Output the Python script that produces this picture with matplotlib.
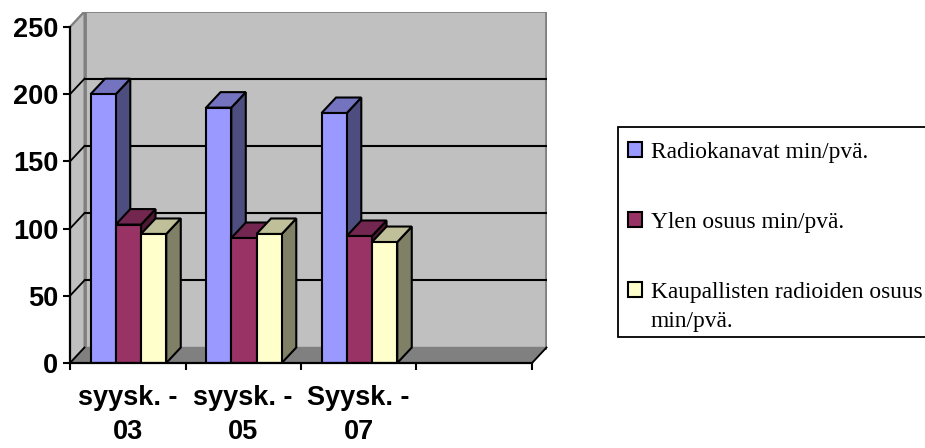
import matplotlib
matplotlib.use("Agg")
import matplotlib.pyplot as plt
from matplotlib.patches import Patch

categories = ["syysk. -\n03", "syysk. -\n05", "Syysk. -\n07"]
radiokanavat = [200, 190, 186]
ylen = [103, 93, 94.5]
kaupalliset = [96, 96, 90]
series_names = ["Radiokanavat min/pvä.", "Ylen osuus min/pvä.",
                "Kaupallisten radioiden osuus\nmin/pvä."]
yticks = [0, 50, 100, 150, 200, 250]
front_colors = ["#9999FF", "#993366", "#FFFFCC"]
top_colors = ["#7373BF", "#732650", "#BFBF99"]
side_colors = ["#4D4D80", "#4D1A33", "#808066"]

W, H = 925, 448
fig = plt.figure(figsize=(W / 100, H / 100), dpi=100, facecolor="white")
L, R, B, T = 70, 547, 363, 12
ax = fig.add_axes([L / W, 1 - B / H, (R - L) / W, (B - T) / H])
ax.set_xlim(0, (R - L) / 115.5)
ax.set_ylim(0, (B - T) / 1.344)
ax.patch.set_visible(False)

dx = 14.5 / 115.5      # depth offset, x units
dy = 15.5 / 1.344      # depth offset, y units
n_slots = 4
ymax = yticks[-1]

# walls and floor
ax.fill([0, dx, dx, 0], [0, dy, ymax + dy, ymax], fc="#C0C0C0", ec="#808080", lw=1.5, zorder=1)
ax.fill([dx, n_slots + dx, n_slots + dx, dx], [dy, dy, ymax + dy, ymax + dy],
        fc="#C0C0C0", ec="#808080", lw=2, zorder=1)
ax.fill([0, n_slots, n_slots + dx, dx], [0, 0, dy, dy], fc="#808080", ec="#808080", lw=1, zorder=2)
ax.plot([n_slots, n_slots + dx], [0, dy], color="black", lw=1.3, zorder=2, clip_on=False)
# gridlines
for v in yticks[:-1]:
    ax.plot([0, dx], [v, v + dy], color="black", lw=1.3, zorder=3, clip_on=False)
    if v > 0:
        ax.plot([dx, n_slots + dx], [v + dy, v + dy], color="black", lw=1.5, zorder=3)
ax.plot([0, dx], [ymax, ymax + dy], color="#808080", lw=1.3, zorder=3)

# bars
values = [radiokanavat, ylen, kaupalliset]
bw = 0.2185
start = 0.178
z = 5
for c in range(len(categories)):
    for s, vals in enumerate(values):
        x0 = c + start + s * bw
        x1 = x0 + bw
        v = vals[c]
        kw = dict(ec="black", lw=1.5, joinstyle="miter")
        ax.fill([x1, x1 + dx, x1 + dx, x1], [0, dy, v + dy, v], fc=side_colors[s], zorder=z, **kw)
        ax.fill([x0, x1, x1 + dx, x0 + dx], [v, v, v + dy, v + dy], fc=top_colors[s], zorder=z, **kw)
        ax.bar(x0, v, width=bw, align="edge", color=front_colors[s], edgecolor="black",
               linewidth=1.5, zorder=z + 1)
        z += 2

# axes
for side in ("top", "right"):
    ax.spines[side].set_visible(False)
ax.spines["left"].set_bounds(0, ymax)
ax.spines["bottom"].set_bounds(0, n_slots)
for side in ("left", "bottom"):
    ax.spines[side].set_linewidth(1.6)
    ax.spines[side].set_zorder(100)
ax.set_yticks(yticks)
ax.set_xticks(range(n_slots + 1), [""] * (n_slots + 1))
ax.set_xticks([i + 0.5 for i in range(len(categories))], categories, minor=True)
ax.tick_params(axis="both", which="major", width=1.5, length=5)
ax.tick_params(axis="x", which="minor", length=0, pad=16)
font = dict(family="Liberation Sans", fontweight="bold", fontsize=19.5)
for t in ax.get_yticklabels():
    t.set(**font)
for t in ax.get_xticklabels(minor=True):
    t.set(linespacing=1.4, **font)

# legend
handles = [Patch(fc=front_colors[i], ec="black", lw=1.5) for i in range(3)]
leg = ax.legend(handles, series_names, loc="upper left",
                bbox_to_anchor=(618 / W, 1 - 127 / H), bbox_transform=fig.transFigure,
                prop=dict(family="Liberation Serif", size=16.8),
                fancybox=False, framealpha=1, edgecolor="black", borderaxespad=0,
                handlelength=0.62, handleheight=0.62, handletextpad=0.36,
                labelspacing=2.1, borderpad=0.42, labelcolor="black")
leg.get_frame().set_linewidth(1.3)
leg.set_zorder(200)
for t in leg.get_texts():
    t.set_linespacing(1.52)
    t.set_y(-5.1)  # points: rows sit lower in the box than the default padding
for i, p in enumerate(leg.get_patches()):
    # the square of the wrapped label sits beside its first line
    p.set_y(p.get_y() - 3.6 + (12.3 if i == 2 else 0))

fig.savefig("out.png", dpi=100)
